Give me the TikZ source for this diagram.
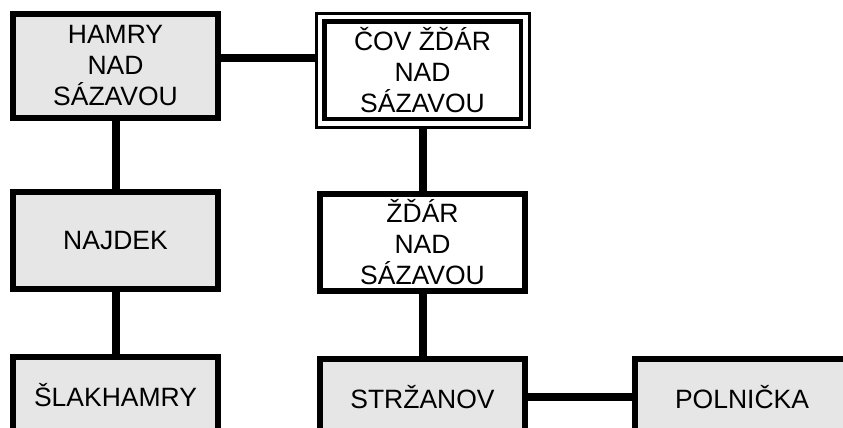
\documentclass[tikz,border=0pt]{standalone}
\usepackage{fontspec}
\setmainfont{Liberation Sans}
\usetikzlibrary{positioning,fit}
\definecolor{ink}{HTML}{000000}
\definecolor{paper}{HTML}{E6E6E6}

\begin{document}
\begin{tikzpicture}[
  x=1pt, y=-1pt,
  box/.style={draw=ink, line width=6pt, minimum width=205pt, inner sep=0pt, align=center, text=ink, font=\fontsize{26.5}{31}\selectfont},
  town/.style={box, fill=paper},
  plant/.style={box, fill=white},
  pipe/.style={line width=8pt, ink}
]
  \useasboundingbox[fill=white] (0,0) rectangle (843,428);
  % left branch
  \node[town, minimum height=104pt] (hamry) at (115.5,66) {HAMRY\\NAD\\SÁZAVOU};
  \node[town, minimum height=97pt, below=68pt of hamry] (najdek) {NAJDEK};
  \node[town, minimum height=76pt, below=62pt of najdek] (slak) {ŠLAKHAMRY};
  % treatment plant, double frame
  \node[plant, line width=4.5pt, minimum width=196.5pt, minimum height=97.5pt] (cov) at (422.5,70.25) {ČOV ŽĎÁR\\NAD\\SÁZAVOU};
  \node[fit=(cov), draw=ink, line width=3pt, inner sep=6pt] (covout) {};
  % middle branch
  \node[plant, minimum height=97pt, below=62pt of covout] (zdar) {ŽĎÁR\\NAD\\SÁZAVOU};
  \node[town, minimum height=76pt, below=62pt of zdar] (strz) {STRŽANOV};
  \node[town, minimum height=76pt, minimum width=214pt, right=104pt of strz] (poln) {POLNIČKA};
  % pipes
  \draw[pipe] ([yshift=8pt]hamry.east) -- ([yshift=8pt]hamry.east -| covout.west);
  \draw[pipe] (hamry.south) -- (najdek.north);
  \draw[pipe] (najdek.south) -- (slak.north);
  \draw[pipe] (covout.south) -- (zdar.north);
  \draw[pipe] (zdar.south) -- (strz.north);
  \draw[pipe] (strz.east) -- (poln.west);
\end{tikzpicture}
\end{document}
